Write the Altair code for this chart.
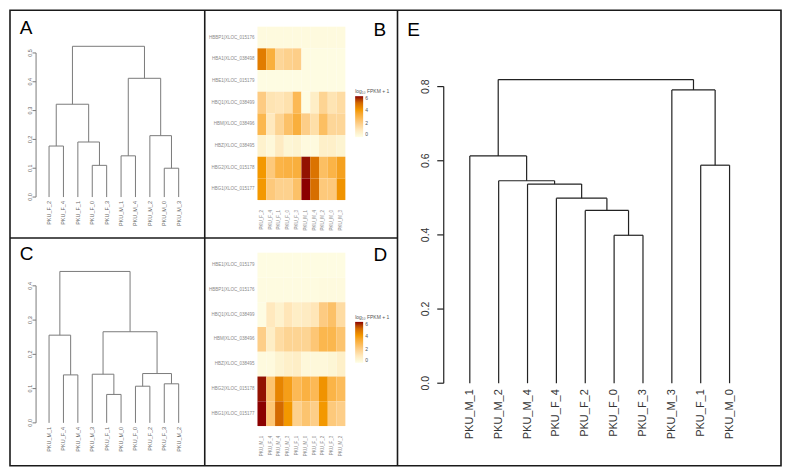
import altair as alt
import pandas as pd

FONT = "Liberation Sans"

# ---------------- data ----------------
A_leaves = ["PKU_F_2", "PKU_F_4", "PKU_F_1", "PKU_F_0", "PKU_F_3",
            "PKU_M_1", "PKU_M_4", "PKU_M_2", "PKU_M_0", "PKU_M_3"]
# (left, right, height); ints refer to earlier merges
A_merges = [("PKU_F_2", "PKU_F_4", 0.177), ("PKU_F_0", "PKU_F_3", 0.110),
            ("PKU_F_1", 1, 0.191), (0, 2, 0.322),
            ("PKU_M_1", "PKU_M_4", 0.143), ("PKU_M_0", "PKU_M_3", 0.100),
            ("PKU_M_2", 5, 0.213), (4, 6, 0.412), (3, 7, 0.523)]
A_ticks = [0.0, 0.1, 0.2, 0.3, 0.4, 0.5]

C_leaves = ["PKU_M_1", "PKU_F_4", "PKU_M_4", "PKU_M_3", "PKU_F_1",
            "PKU_M_0", "PKU_F_0", "PKU_F_2", "PKU_F_3", "PKU_M_2"]
C_merges = [("PKU_F_4", "PKU_M_4", 0.140), ("PKU_M_1", 0, 0.256),
            ("PKU_F_1", "PKU_M_0", 0.083), ("PKU_M_3", 2, 0.142),
            ("PKU_F_0", "PKU_F_2", 0.107), ("PKU_F_3", "PKU_M_2", 0.114),
            (4, 5, 0.144), (3, 6, 0.266), (1, 7, 0.442)]
C_ticks = [0.0, 0.1, 0.2, 0.3, 0.4]

E_leaves = ["PKU_M_1", "PKU_M_2", "PKU_M_4", "PKU_F_4", "PKU_F_2",
            "PKU_F_0", "PKU_F_3", "PKU_M_3", "PKU_F_1", "PKU_M_0"]
E_merges = [("PKU_F_0", "PKU_F_3", 0.399), ("PKU_F_2", 0, 0.466),
            ("PKU_F_4", 1, 0.499), ("PKU_M_4", 2, 0.537),
            ("PKU_M_2", 3, 0.546), ("PKU_M_1", 4, 0.613),
            ("PKU_F_1", "PKU_M_0", 0.588), ("PKU_M_3", 6, 0.791),
            (5, 7, 0.819)]
E_ticks = [0.0, 0.2, 0.4, 0.6, 0.8]

B_genes = ["HBBP1|XLOC_015176", "HBA1|XLOC_038498", "HBE1|XLOC_015179",
           "HBQ1|XLOC_038499", "HBM|XLOC_038496", "HBZ|XLOC_038495",
           "HBG2|XLOC_015178", "HBG1|XLOC_015177"]
B_samples = A_leaves
B_HBBP1 = [0.2, 0.2, 0.2, 0.2, 0.2, 0.2, 0.2, 0.2, 0.2, 0.2]
B_HBA1 = [4.6, 3.2, 1.7, 1.9, 2.0, 0.1, 0.1, 0.1, 0.1, 0.1]
B_HBE1 = [0.1, 0.1, 0.1, 0.1, 0.1, 0.1, 0.1, 0.1, 0.1, 0.1]
B_HBQ1 = [2.1, 1.2, 1.1, 1.3, 2.8, 0.1, 0.8, 1.8, 1.2, 1.5]
B_HBM = [2.9, 1.0, 1.8, 2.5, 3.2, 2.0, 1.4, 2.6, 1.7, 1.7]
B_HBZ = [0.6, 0.3, 0.9, 0.4, 0.5, 0.2, 0.2, 0.7, 0.7, 0.5]
B_HBG2 = [4.0, 2.2, 3.0, 3.1, 3.2, 5.9, 4.8, 2.6, 3.0, 3.7]
B_HBG1 = [4.0, 2.2, 1.9, 1.9, 2.5, 6.0, 4.9, 2.2, 2.2, 4.1]
B_values = [B_HBBP1, B_HBA1, B_HBE1, B_HBQ1, B_HBM, B_HBZ, B_HBG2, B_HBG1]

D_genes = ["HBE1|XLOC_015179", "HBBP1|XLOC_015176", "HBQ1|XLOC_038499",
           "HBM|XLOC_038496", "HBZ|XLOC_038495", "HBG2|XLOC_015178",
           "HBG1|XLOC_015177"]
D_samples = C_leaves
D_HBE1 = [0.1, 0.1, 0.1, 0.1, 0.1, 0.1, 0.1, 0.1, 0.1, 0.1]
D_HBBP1 = [0.15, 0.15, 0.15, 0.15, 0.15, 0.15, 0.15, 0.2, 0.2, 0.2]
D_HBQ1 = [0.1, 1.0, 0.6, 1.1, 0.8, 0.9, 1.1, 2.1, 2.5, 1.5]
D_HBM = [2.0, 0.8, 1.5, 1.8, 1.8, 1.8, 2.3, 2.9, 2.9, 2.4]
D_HBZ = [0.2, 0.2, 0.5, 0.7, 0.8, 0.3, 0.3, 0.3, 0.4, 0.7]
D_HBG2 = [5.9, 2.4, 4.4, 3.8, 2.8, 3.1, 2.8, 4.1, 3.0, 2.7]
D_HBG1 = [6.0, 2.3, 5.0, 4.0, 1.9, 2.4, 2.0, 4.0, 2.2, 2.0]
D_values = [D_HBE1, D_HBBP1, D_HBQ1, D_HBM, D_HBZ, D_HBG2, D_HBG1]

COLOR_DOMAIN = [0, 1, 2, 3, 4, 5, 6]
COLOR_RANGE = ["#FFFEE6", "#FFE9BE", "#FDCE88", "#FBB447", "#F39800",
               "#D46A00", "#8B0000"]
LEGEND_VALUES = [0, 2, 4, 6]

# ---------------- layout (pixels) ----------------
W, H = 772, 456
XB, XE, YC = 195, 388, 228   # panel divider positions


# ---------------- helpers ----------------
def dendro_segments(leaves, merges):
    pos = {name: i + 1 for i, name in enumerate(leaves)}
    nodes = []
    segs = []

    def get(ref):
        if isinstance(ref, int):
            return nodes[ref]
        return (pos[ref], 0.0)

    for a, b, h in merges:
        xa, ha = get(a)
        xb, hb = get(b)
        segs.append(dict(x=xa, x2=xa, y=ha, y2=h))
        segs.append(dict(x=xb, x2=xb, y=hb, y2=h))
        segs.append(dict(x=xa, x2=xb, y=h, y2=h))
        nodes.append(((xa + xb) / 2.0, h))
    return pd.DataFrame(segs)


def letter_layer(letter, lx, ly):
    return alt.Chart(pd.DataFrame({"l": [letter]})).mark_text(
        align="left", baseline="alphabetic", fontSize=19, font=FONT,
        color="#000000"
    ).encode(x=alt.value(lx), y=alt.value(ly), text="l:N")


def dendro_layers(leaves, merges, ticks, letter, ox, oy, xr, yr, axis_x,
                  tick_len, lab_x, tick_font, leaf_font, leaf_dx,
                  line_color, line_w, text_color, letter_xy):
    xs = alt.Scale(domain=[1, len(leaves)], range=[ox + xr[0], ox + xr[1]],
                   nice=False, zero=False)
    ys = alt.Scale(domain=[ticks[0], ticks[-1]],
                   range=[oy + yr[0], oy + yr[1]], nice=False, zero=False)
    segs = alt.Chart(dendro_segments(leaves, merges)).mark_rule(
        color=line_color, strokeWidth=line_w
    ).encode(
        x=alt.X("x:Q", scale=xs, axis=None), x2="x2:Q",
        y=alt.Y("y:Q", scale=ys, axis=None), y2="y2:Q",
    )
    leaf_df = pd.DataFrame({"i": list(range(1, len(leaves) + 1)),
                            "name": leaves, "h": [0.0] * len(leaves)})
    labels = alt.Chart(leaf_df).mark_text(
        angle=270, align="right", baseline="middle", dx=-leaf_dx,
        fontSize=leaf_font, font=FONT, color=text_color
    ).encode(
        x=alt.X("i:Q", scale=xs, axis=None),
        y=alt.Y("h:Q", scale=ys, axis=None),
        text="name:N",
    )
    tick_df = pd.DataFrame({"t": ticks, "lab": [f"{t:.1f}" for t in ticks]})
    axis_df = pd.DataFrame({"a": [ticks[0]], "b": [ticks[-1]]})
    axis_line = alt.Chart(axis_df).mark_rule(
        color=line_color, strokeWidth=line_w
    ).encode(
        x=alt.value(ox + axis_x),
        y=alt.Y("a:Q", scale=ys, axis=None), y2="b:Q",
    )
    tick_marks = alt.Chart(tick_df).mark_rule(
        color=line_color, strokeWidth=line_w
    ).encode(
        x=alt.value(ox + axis_x - tick_len), x2=alt.value(ox + axis_x),
        y=alt.Y("t:Q", scale=ys, axis=None),
    )
    tick_labels = alt.Chart(tick_df).mark_text(
        angle=270, align="center", baseline="middle",
        fontSize=tick_font, font=FONT, color=text_color
    ).encode(
        x=alt.value(ox + lab_x),
        y=alt.Y("t:Q", scale=ys, axis=None),
        text="lab:N",
    )
    return [segs, axis_line, tick_marks, tick_labels, labels,
            letter_layer(letter, ox + letter_xy[0], oy + letter_xy[1])]


def heat_layers(genes, samples, values, field, letter, ox, oy, xr, yr,
                row_lab_x, col_lab_y, legend_xy, letter_xy):
    rows = []
    for r, g in enumerate(genes):
        for c, s in enumerate(samples):
            rows.append({"c0": c, "c1": c + 1, "r0": r, "r1": r + 1,
                         field: values[r][c]})
    df = pd.DataFrame(rows)
    xs = alt.Scale(domain=[0, len(samples)], range=[ox + xr[0], ox + xr[1]],
                   nice=False, zero=False)
    ys = alt.Scale(domain=[0, len(genes)], range=[oy + yr[0], oy + yr[1]],
                   nice=False, zero=False)
    cs = alt.Scale(domain=COLOR_DOMAIN, range=COLOR_RANGE, type="linear",
                   clamp=True)
    cells = alt.Chart(df).mark_rect(strokeWidth=0).encode(
        x=alt.X("c0:Q", scale=xs, axis=None), x2="c1:Q",
        y=alt.Y("r0:Q", scale=ys, axis=None), y2="r1:Q",
        color=alt.Color(
            f"{field}:Q", scale=cs,
            legend=alt.Legend(
                title="log\u2081\u2080 FPKM + 1", orient="none",
                legendX=ox + legend_xy[0], legendY=oy + legend_xy[1],
                direction="vertical", gradientLength=41,
                gradientThickness=8, values=LEGEND_VALUES,
                titleFontSize=5, labelFontSize=5, titleFont=FONT,
                labelFont=FONT, titleFontWeight="normal",
                titleColor="#555555", labelColor="#555555",
                titlePadding=2, labelOffset=2, gradientStrokeWidth=0,
                labelOverlap=False, titleLimit=120, padding=0,
            ),
        ),
    )
    row_df = pd.DataFrame({"rc": [r + 0.5 for r in range(len(genes))],
                           "g": genes})
    row_labels = alt.Chart(row_df).mark_text(
        align="right", baseline="middle", fontSize=4.5, font=FONT,
        color="#8a8a8a"
    ).encode(
        x=alt.value(ox + row_lab_x),
        y=alt.Y("rc:Q", scale=ys, axis=None),
        text="g:N",
    )
    col_df = pd.DataFrame({"cc": [c + 0.5 for c in range(len(samples))],
                           "s": samples})
    col_labels = alt.Chart(col_df).mark_text(
        angle=270, align="right", baseline="middle", fontSize=4.5, font=FONT,
        color="#8a8a8a"
    ).encode(
        x=alt.X("cc:Q", scale=xs, axis=None),
        y=alt.value(oy + col_lab_y),
        text="s:N",
    )
    return [cells, row_labels, col_labels,
            letter_layer(letter, ox + letter_xy[0], oy + letter_xy[1])]


# ---------------- panels ----------------
layers = []
layers += dendro_layers(A_leaves, A_merges, A_ticks, "A", 0, 0,
                        [39.1, 168.9], [187.0, 42.7], 26.1, 3.5, 19.6, 5.5,
                        5.5, 4, "#7a7a7a", 1, "#666666", (9.8, 24))
layers += heat_layers(B_genes, B_samples, B_values, "B_val", "B", XB, 0,
                      [52.8, 140.8], [16.4, 190.0], 49.9, 200, (150.6, 79),
                      (169, 26))
layers += dendro_layers(C_leaves, C_merges, C_ticks, "C", 0, YC,
                        [39.1, 168.9], [185.1, 47.9], 26.1, 3.5, 19.6, 5.5,
                        5.5, 4, "#7a7a7a", 1, "#666666", (9.8, 22))
layers += heat_layers(D_genes, D_samples, D_values, "D_val", "D", XB, YC,
                      [52.8, 140.8], [14.7, 188.3], 49.9, 198, (150.6, 77),
                      (169, 23))
layers += dendro_layers(E_leaves, E_merges, E_ticks, "E", XE, 0,
                        [72.4, 332.5], [373.4, 76.4], 46.3, 6.5, 28.4, 10.5,
                        11, 6, "#222222", 1.2, "#333333", (9.8, 26))

# panel divider lines
vdiv = alt.Chart(pd.DataFrame({"d": [0]})).mark_rule(
    color="#1a1a1a", strokeWidth=1.6
)
layers += [
    vdiv.encode(x=alt.value(XB), y=alt.value(0), y2=alt.value(H)),
    vdiv.encode(x=alt.value(XE), y=alt.value(0), y2=alt.value(H)),
    vdiv.encode(x=alt.value(0), x2=alt.value(XE), y=alt.value(YC)),
]

chart = alt.layer(*layers).resolve_scale(
    x="independent", y="independent", color="independent"
).resolve_legend(color="independent").properties(
    width=W, height=H,
    padding={"left": 1, "top": 1, "right": 1, "bottom": 1},
    background="white",
).configure_view(stroke="#1a1a1a", strokeWidth=1.6)

chart.save("out.html", embed_options={"renderer": "svg", "actions": False})
